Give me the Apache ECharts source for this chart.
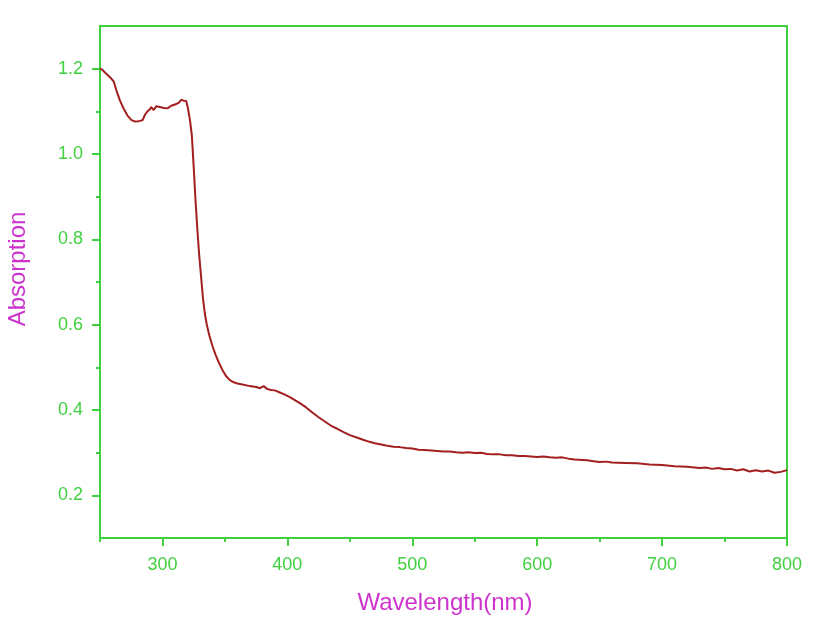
<!DOCTYPE html>
<html>
<head>
<meta charset="utf-8">
<script src="https://cdn.jsdelivr.net/npm/echarts@6/dist/echarts.min.js"></script>
<style>
html,body{margin:0;padding:0;background:#fff;}
#chart{width:821px;height:620px;}
</style>
</head>
<body>
<div id="chart"></div>
<script>
// Wavelength (nm)
const wavelength = [250,252,255,258,261,263,266,269,272,275,278,281,284,286,288,290,291,293,295,298,301,304,307,310,313,315,317,319,320.5,322,323.5,325,326.5,328,329.5,331,332.5,334,335.5,337.5,340,342.5,345,348,351,354,357,360,365,370,375,378,381,384,387,390,394,398,402,406,410,415,420,425,430,435,440,445,450,455,460,465,470,475,480,485,490,495,500,505,510,515,520,525,530,535,540,545,550,555,560,565,570,575,580,585,590,595,600,605,610,615,620,625,630,640,645,650,655,660,670,680,690,700,710,720,730,735,740,745,750,755,760,765,770,775,780,785,790,795,800];
// Absorption
const absorption = [1.200,1.197,1.188,1.180,1.170,1.150,1.125,1.106,1.090,1.080,1.076,1.077,1.079,1.092,1.100,1.105,1.110,1.103,1.112,1.110,1.108,1.107,1.113,1.116,1.120,1.127,1.125,1.124,1.106,1.080,1.045,0.970,0.890,0.820,0.760,0.710,0.660,0.625,0.600,0.575,0.550,0.530,0.512,0.494,0.479,0.470,0.465,0.462,0.459,0.456,0.454,0.451,0.456,0.449,0.447,0.446,0.441,0.436,0.430,0.423,0.416,0.406,0.394,0.383,0.373,0.363,0.356,0.348,0.341,0.336,0.331,0.326,0.322,0.319,0.316,0.314,0.313,0.311,0.310,0.307,0.306,0.305,0.304,0.303,0.303,0.301,0.300,0.301,0.299,0.300,0.297,0.296,0.296,0.294,0.294,0.292,0.292,0.291,0.290,0.291,0.289,0.288,0.289,0.286,0.284,0.282,0.280,0.278,0.279,0.277,0.276,0.275,0.272,0.271,0.268,0.267,0.264,0.265,0.262,0.264,0.261,0.262,0.258,0.261,0.256,0.259,0.256,0.258,0.253,0.255,0.259];
const xMajorTicks = [300,400,500,600,700,800];
const xMinorTicks = [250,350,450,550,650,750];
const yMajorTicks = [0.2,0.4,0.6,0.8,1.0,1.2];
const yMinorTicks = [0.3,0.5,0.7,0.9,1.1];

const green = '#3fd03f';
const labelGreen = '#40d040';
const magenta = '#cc33cc';
const lineRed = '#a31f1f';
const font = 'Liberation Sans, Arial, sans-serif';

const chart = echarts.init(document.getElementById('chart'), null, {renderer:'canvas'});
chart.setOption({
  animation:false,
  backgroundColor:'#ffffff',
  grid:{left:100,right:34,top:26,bottom:82,containLabel:false,outerBoundsMode:'none',show:true,borderColor:green,borderWidth:2,backgroundColor:'transparent'},
  xAxis:[{
    type:'value',min:250,max:800,position:'bottom',
    name:'Wavelength(nm)',nameLocation:'middle',nameGap:53,
    nameTextStyle:{color:magenta,fontSize:24,fontFamily:font,padding:[0,0,0,3]},
    axisLine:{show:true,onZero:false,lineStyle:{color:green,width:2}},
    axisTick:{show:true,customValues:xMajorTicks,length:8,lineStyle:{color:green,width:2}},
    axisLabel:{show:true,customValues:xMajorTicks,margin:18,color:labelGreen,fontSize:18,fontFamily:font},
    splitLine:{show:false}
  },{
    type:'value',min:250,max:800,position:'bottom',
    axisLine:{show:false},
    axisTick:{show:true,customValues:xMinorTicks,length:4,lineStyle:{color:green,width:2}},
    axisLabel:{show:false},splitLine:{show:false}
  }],
  yAxis:[{
    type:'value',min:0.1,max:1.3,position:'left',
    name:'Absorption',nameLocation:'middle',nameGap:70,nameRotate:90,
    nameTextStyle:{color:magenta,fontSize:24,fontFamily:font,padding:[0,0,0,26]},
    axisLine:{show:true,onZero:false,lineStyle:{color:green,width:2}},
    axisTick:{show:true,customValues:yMajorTicks,length:8,lineStyle:{color:green,width:2}},
    axisLabel:{show:true,customValues:yMajorTicks,margin:17,color:labelGreen,fontSize:18,fontFamily:font,
      formatter:v=>Number(v).toFixed(1)},
    splitLine:{show:false}
  },{
    type:'value',min:0.1,max:1.3,position:'left',
    axisLine:{show:false},
    axisTick:{show:true,customValues:yMinorTicks,length:4,lineStyle:{color:green,width:2}},
    axisLabel:{show:false},splitLine:{show:false}
  }],
  series:[{
    type:'line',xAxisIndex:0,yAxisIndex:0,
    data:wavelength.map((w,i)=>[w,absorption[i]]),
    showSymbol:false,smooth:false,
    lineStyle:{color:lineRed,width:2},
    itemStyle:{color:lineRed}
  }]
});
</script>
</body>
</html>
